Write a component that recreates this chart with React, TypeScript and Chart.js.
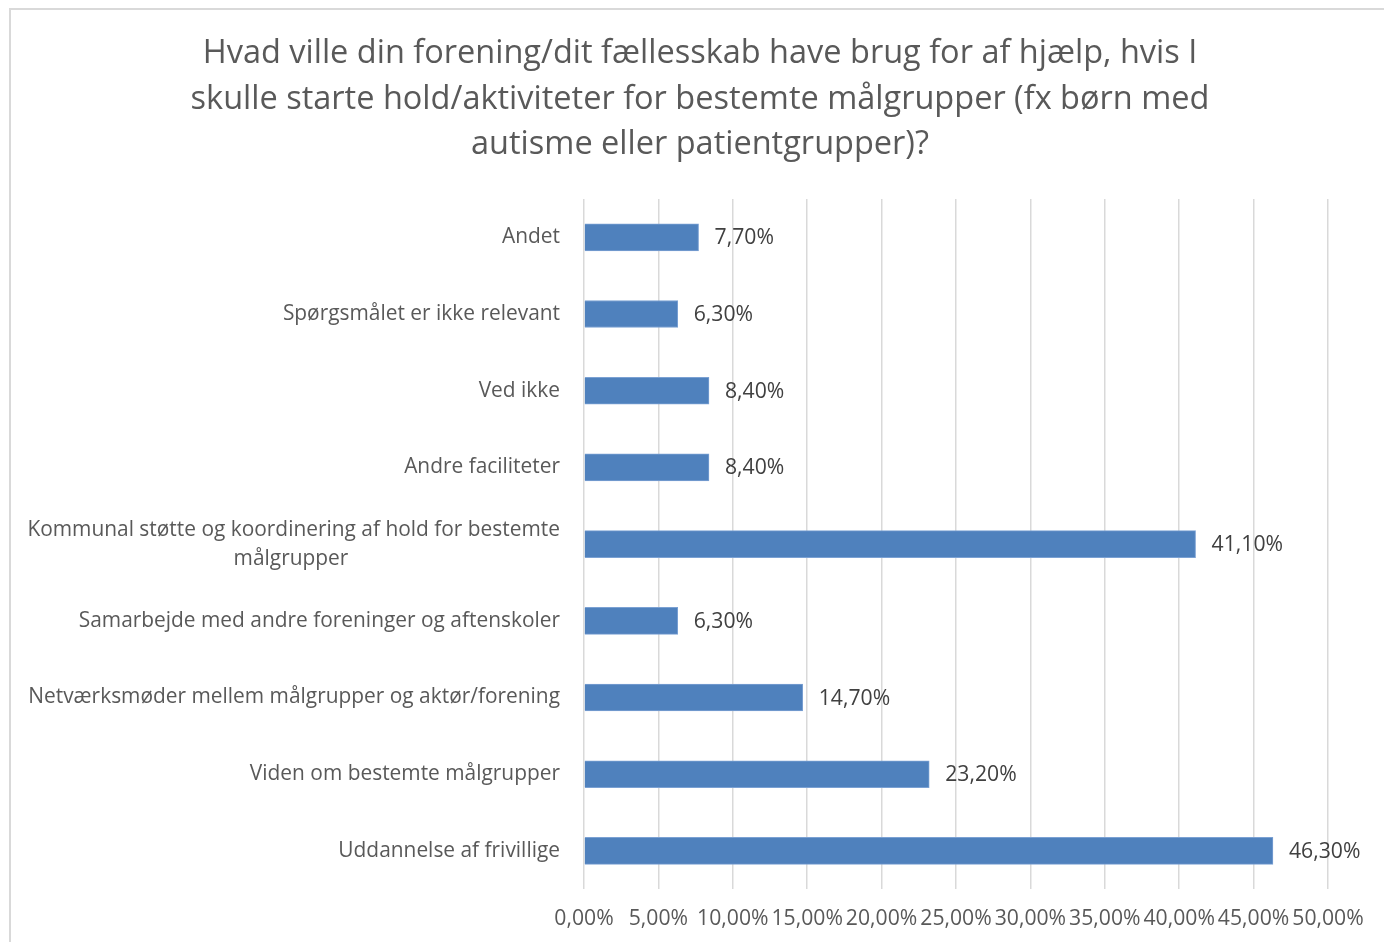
import React, { useEffect, useRef } from 'react';
import { Chart, registerables } from 'chart.js';

Chart.register(...registerables);

const titleLines = [
  'Hvad ville din forening/dit fællesskab have brug for af hjælp, hvis I',
  'skulle starte hold/aktiviteter for bestemte målgrupper (fx børn med',
  'autisme eller patientgrupper)?',
];

const categories: (string | string[])[] = [
  'Andet',
  'Spørgsmålet er ikke relevant',
  'Ved ikke',
  'Andre faciliteter',
  ['Kommunal støtte og koordinering af hold for bestemte', 'målgrupper'],
  'Samarbejde med andre foreninger og aftenskoler',
  'Netværksmøder mellem målgrupper og aktør/forening',
  'Viden om bestemte målgrupper',
  'Uddannelse af frivillige',
];

const values = [7.7, 6.3, 8.4, 8.4, 41.1, 6.3, 14.7, 23.2, 46.3];

const xMin = 0;
const xMax = 50;
const xStep = 5;

const FONT = '"Open Sans"';
const LABEL_SIZE = 20.9;
const VALUE_SIZE = 21.2;
const TITLE_SIZE = 32.5;

const fmtPct = (v: number) => v.toFixed(2).replace('.', ',') + '%';

let measureCtx: CanvasRenderingContext2D | null = null;
function textWidth(t: string): number {
  if (!measureCtx) {
    measureCtx = document.createElement('canvas').getContext('2d');
  }
  const c = measureCtx as CanvasRenderingContext2D;
  c.font = `${LABEL_SIZE}px ${FONT}`;
  return c.measureText(t).width;
}

// center shorter lines of a multi-line (right-aligned) label under the longest one
function centerLines(label: string | string[]): string | string[] {
  if (!Array.isArray(label)) return label;
  const widths = label.map(textWidth);
  const W = Math.max(...widths);
  const sp = textWidth(' ');
  return label.map((l, i) => {
    const n = Math.round((W - widths[i]) / (2 * sp));
    return l + ' '.repeat(Math.max(0, n));
  });
}

const valueLabelPlugin = {
  id: 'valueLabels',
  afterDatasetsDraw(chart: any) {
    const ctx = chart.ctx as CanvasRenderingContext2D;
    const meta = chart.getDatasetMeta(0);
    const data = chart.data.datasets[0].data as number[];
    ctx.save();
    ctx.font = `${VALUE_SIZE}px ${FONT}`;
    ctx.fillStyle = '#404040';
    ctx.textAlign = 'left';
    ctx.textBaseline = 'middle';
    meta.data.forEach((bar: any, i: number) => {
      ctx.fillText(fmtPct(data[i]), bar.x + 16, bar.y + 1);
    });
    ctx.restore();
  },
};

export default function App() {
  const ref = useRef<HTMLCanvasElement | null>(null);

  useEffect(() => {
    if (!ref.current) return;
    const chart = new Chart(ref.current, {
      type: 'bar',
      data: {
        labels: categories as any,
        datasets: [
          {
            data: values,
            backgroundColor: '#4F81BD',
            borderColor: '#7ba1d3',
            borderWidth: 1,
            barThickness: 27,
          },
        ],
      },
      plugins: [valueLabelPlugin],
      options: {
        indexAxis: 'y',
        responsive: false,
        animation: false,
        devicePixelRatio: 1,
        layout: { padding: { left: 0, right: 0, top: 0, bottom: 0.5 } },
        plugins: {
          legend: { display: false },
          tooltip: { enabled: false },
          title: {
            display: true,
            text: titleLines,
            color: '#595959',
            font: { family: FONT, size: TITLE_SIZE, weight: 'normal', lineHeight: 45.5 / TITLE_SIZE },
            padding: { top: 21, bottom: 31.5 },
          },
        },
        scales: {
          x: {
            type: 'linear',
            min: xMin,
            max: xMax,
            afterFit: (scale: any) => {
              scale.paddingRight = 61;
            },
            ticks: {
              stepSize: xStep,
              autoSkip: false,
              maxRotation: 0,
              padding: 17.4,
              color: '#595959',
              font: { family: FONT, size: VALUE_SIZE },
              callback: (v: any) => fmtPct(Number(v)),
            },
            grid: { color: '#d9d9d9', lineWidth: 1.5, drawTicks: false },
            border: { display: false },
          },
          y: {
            type: 'category',
            afterFit: (scale: any) => {
              scale.width = 573;
            },
            ticks: {
              padding: 24,
              autoSkip: false,
              color: '#595959',
              font: { family: FONT, size: LABEL_SIZE, lineHeight: 29 / LABEL_SIZE },
              callback: function (this: any, v: any) {
                return centerLines(categories[Number(v)]);
              },
            },
            grid: { display: false, drawTicks: false },
            border: { display: false },
          },
        },
      },
    });
    return () => chart.destroy();
  }, []);

  return (
    <div
      style={{
        position: 'fixed',
        left: 9,
        top: 8,
        width: 1400,
        height: 960,
        borderLeft: '2px solid #d9d9d9',
        borderTop: '2px solid #d9d9d9',
        background: '#fff',
      }}
    >
      <canvas ref={ref} width={1378} height={940} style={{ display: 'block' }} />
    </div>
  );
}
